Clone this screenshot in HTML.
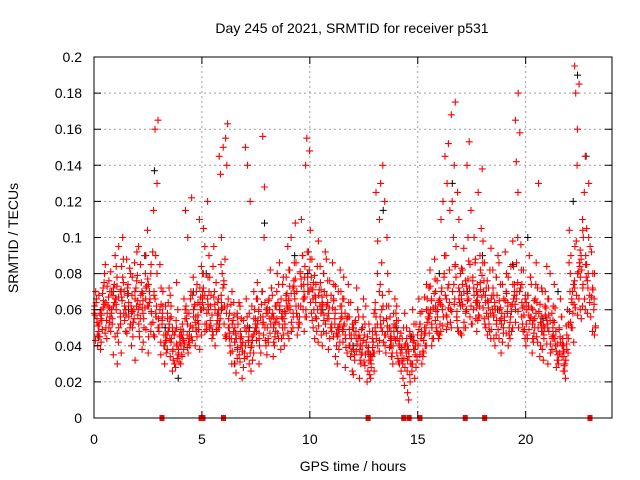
<!DOCTYPE html>
<html><head><meta charset="utf-8"><style>
html,body{margin:0;padding:0;background:#fff}
svg{display:block;font-family:"Liberation Sans",sans-serif}
</style></head><body>
<svg id="chart" width="640" height="480" viewBox="0 0 640 480">
<rect width="640" height="480" fill="#fff"/>
<g id="grid"></g>
<g id="blackpts"></g>
<g id="redpts"></g>
<g id="zeropts"></g>
<rect x="94" y="57" width="518" height="361" fill="none" stroke="#000" stroke-width="1"/>
<g id="ticks"></g>
<text x="352" y="33" text-anchor="middle" font-size="14">Day 245 of 2021, SRMTID for receiver p531</text>
<text x="353" y="471" text-anchor="middle" font-size="14">GPS time / hours</text>
<text transform="translate(18,238) rotate(-90)" text-anchor="middle" font-size="14">SRMTID / TECUs</text>
</svg>
<script>
const xTicks=[0,5,10,15,20];
const yTicks=[0,0.02,0.04,0.06,0.08,0.1,0.12,0.14,0.16,0.18,0.2];
const yTickLabels=["0","0.02","0.04","0.06","0.08","0.1","0.12","0.14","0.16","0.18","0.2"];
const binStarts=[0,0.25,0.5,0.75,1,1.25,1.5,1.75,2,2.25,2.5,2.75,3,3.25,3.5,3.75,4,4.25,4.5,4.75,5,5.25,5.5,5.75,6,6.25,6.5,6.75,7,7.25,7.5,7.75,8,8.25,8.5,8.75,9,9.25,9.5,9.75,10,10.25,10.5,10.75,11,11.25,11.5,11.75,12,12.25,12.5,12.75,13,13.25,13.5,13.75,14,14.25,14.5,14.75,15,15.25,15.5,15.75,16,16.25,16.5,16.75,17,17.25,17.5,17.75,18,18.25,18.5,18.75,19,19.25,19.5,19.75,20,20.25,20.5,20.75,21,21.25,21.5,21.75,22,22.25,22.5,22.75,23];
const redVals=[
[55,62,48,70,40,58,66,52],[60,72,45,54,80,38,65,57],[58,70,50,76,44,62,85,53],[64,55,72,48,90,60,35,68],
[66,52,78,95,42,60,70,30],[70,58,84,48,100,62,36,75],[62,74,50,88,56,40,68,80],[68,55,92,45,72,60,32,78],
[60,75,48,85,65,38,95,55],[72,58,104,50,66,80,42,62],[64,52,80,45,92,70,58,36],[68,165,160,130,115,90,55,45],
[58,48,72,40,85,62,35,52],[50,42,64,36,58,30,72,46],[44,38,55,30,62,48,26,68],[42,50,35,60,28,46,75,38],
[48,40,55,34,66,30,44,115],[52,44,62,36,70,58,40,100],[56,48,68,40,78,62,122,50],[60,52,72,45,84,64,38,110],
[66,58,80,48,95,70,52,105],[62,54,78,44,90,68,120,50],[58,70,48,84,40,64,95,52],[66,135,150,145,80,55,100,60],
[62,163,155,140,74,50,88,45],[52,44,64,36,70,30,58,48],[46,38,58,30,64,25,52,42],[44,36,55,28,62,22,50,40],
[48,150,140,120,66,30,56,42],[50,40,60,32,70,26,55,45],[54,44,66,36,75,30,60,48],[58,156,128,100,70,40,52,64],
[60,50,72,42,82,35,66,56],[56,48,68,40,80,34,62,52],[60,50,74,44,86,38,64,55],[62,52,78,46,95,40,68,58],
[66,56,82,48,100,44,72,60],[70,58,86,50,108,46,76,62],[74,62,90,52,110,48,80,66],[78,155,148,140,92,56,70,84],
[72,60,88,50,104,44,78,66],[68,56,84,48,98,42,74,62],[64,54,80,46,92,40,70,58],[62,50,76,44,88,38,68,55],
[60,48,74,40,86,34,66,52],[56,46,70,38,82,30,62,50],[52,44,66,36,78,28,58,48],[50,40,64,34,74,26,56,46],
[48,38,60,32,72,24,54,44],[44,36,56,30,66,22,50,40],[40,32,52,26,62,20,46,36],[36,30,48,24,58,22,44,34],
[60,110,125,98,80,50,70,44],[62,140,130,120,86,54,74,48],[56,100,70,46,80,40,62,50],[48,40,58,34,66,30,52,44],
[44,36,54,30,62,26,48,40],[40,32,50,22,58,18,44,36],[38,20,48,14,30,10,44,26],[42,34,52,28,60,22,46,38],
[48,40,58,34,66,30,52,44],[56,46,66,40,74,36,60,50],[60,50,72,44,82,40,66,56],[64,54,76,48,88,44,70,60],
[62,52,78,110,120,46,72,90],[66,152,145,130,115,90,74,56],[70,175,168,140,120,100,60,84],[64,125,110,95,80,54,72,48],
[68,58,82,50,94,46,76,62],[72,153,140,115,100,85,60,66],[70,60,88,52,100,48,78,64],[74,62,138,125,105,56,82,68],
[70,58,86,50,98,46,76,64],[66,56,82,48,94,44,72,60],[62,52,78,44,90,40,68,56],[60,50,74,42,86,36,66,54],
[64,54,80,46,92,40,70,58],[68,56,84,48,98,44,74,62],[70,180,165,158,142,125,100,60],[66,56,82,48,96,44,74,62],
[62,52,78,44,90,40,68,56],[60,50,74,42,86,36,66,54],[58,48,72,40,130,34,64,52],[56,46,70,38,84,32,62,50],
[52,44,66,36,80,30,58,48],[48,40,62,32,74,28,54,44],[44,36,56,30,66,26,50,40],[40,32,52,26,60,22,46,36],
[70,58,90,50,104,42,80,64],[80,195,185,180,160,140,95,66],[90,72,110,60,125,55,100,84],[85,68,105,130,145,58,95,78],
[66,56,80,50,92,46,72,60]];
const redVals2=[
[57,51,64,46,60,68,43,53],[63,55,69,49,58,75,42,61],[61,54,67,47,73,56,64,50],[66,58,74,52,62,81,45,70],
[63,56,73,50,67,84,58,47],[67,60,78,54,71,88,57,65],[64,58,72,52,69,83,47,60],[66,59,76,53,70,86,50,62],
[63,57,70,52,68,79,45,61],[69,61,77,55,73,90,49,65],[66,59,74,53,70,85,48,62],[62,56,70,50,66,80,46,58],
[56,50,63,46,60,70,42,54],[48,43,55,40,52,62,38,46],[42,37,50,34,46,56,32,44],[41,36,48,33,45,54,31,40],
[46,41,52,38,49,60,35,43],[51,46,58,42,55,66,39,48],[56,50,63,45,60,70,43,53],[60,54,67,49,63,74,46,57],
[64,58,72,52,68,80,49,61],[63,57,70,51,66,78,48,60],[60,54,67,49,63,75,46,57],[64,58,72,52,68,85,50,61],
[58,52,66,46,62,76,44,55],[50,44,57,40,54,63,37,47],[44,39,50,35,47,56,33,42],[42,37,48,33,45,54,31,40],
[45,40,51,36,48,58,34,43],[48,43,55,39,52,62,36,46],[52,47,59,43,56,66,40,50],[56,50,63,46,60,70,43,53],
[58,52,65,47,61,72,44,55],[55,50,62,45,58,70,42,53],[58,52,66,47,62,74,44,56],[61,55,69,50,65,78,47,59],
[65,58,73,53,69,82,50,62],[69,62,77,56,73,86,53,66],[73,66,81,60,77,90,56,70],[74,67,82,60,78,92,56,70],
[71,64,79,58,75,88,54,68],[67,60,75,55,71,84,51,64],[63,57,71,52,67,80,48,60],[61,55,68,50,64,76,47,58],
[58,52,65,47,61,73,45,55],[55,49,62,45,58,70,42,52],[51,46,58,42,55,66,39,49],[49,44,56,40,52,64,37,46],
[46,41,53,37,50,60,35,44],[43,38,49,35,46,56,32,40],[39,35,45,31,42,52,29,37],[36,32,42,28,39,48,26,34],
[48,43,56,40,52,64,37,46],[52,46,60,42,56,68,40,50],[48,43,55,39,51,62,36,45],[45,40,51,36,48,58,34,43],
[41,36,47,33,44,54,31,39],[38,33,44,30,41,50,28,36],[34,30,40,26,37,46,24,32],[40,35,46,32,43,52,30,38],
[46,41,52,37,49,59,35,44],[53,47,60,43,56,67,40,50],[58,52,65,47,61,73,44,55],[62,56,69,50,65,77,47,59],
[63,56,70,51,66,80,48,60],[64,57,72,52,68,82,49,61],[66,59,74,53,70,85,50,63],[62,56,70,50,66,78,47,59],
[66,59,74,53,70,83,50,63],[69,62,77,56,73,87,52,65],[68,61,76,55,72,86,52,65],[71,64,79,57,75,90,54,67],
[68,61,76,55,72,86,52,65],[64,58,72,52,68,82,49,61],[60,54,68,49,64,78,46,57],[58,52,65,47,61,74,44,55],
[62,56,69,50,65,78,47,59],[66,59,74,53,70,84,50,63],[66,59,75,53,70,86,50,63],[64,57,72,52,68,82,49,61],
[60,54,68,49,64,78,46,57],[58,52,65,47,61,74,44,55],[56,50,63,45,59,72,42,53],[54,48,61,44,57,70,41,51],
[50,45,57,41,54,66,38,48],[46,41,53,37,50,61,35,44],[42,37,49,34,45,56,32,40],[38,34,44,30,41,51,29,36],
[66,59,74,53,70,86,50,63],[76,68,86,61,81,98,57,72],[82,74,93,66,88,104,62,78],[80,72,90,64,85,100,60,76],
[63,56,71,51,67,80,48,60]];
const jitter=[0.53,0.12,0.87,0.31,0.68,0.05,0.44,0.95,0.21,0.76,0.38,0.62,0.09,0.91,0.27,0.58];
const blackTimes=[0.2,0.9,1.6,2.4,2.8,3.3,3.9,4.6,5.2,5.9,6.5,7.2,7.9,8.6,9.3,9.9,10.6,11.3,12.0,12.8,13.4,14.0,14.7,15.4,16.0,16.6,17.3,18.0,18.7,19.4,20.1,20.8,21.5,22.2,22.4,22.8];
const blackVals=[0.045,0.07,0.06,0.09,0.137,0.05,0.022,0.07,0.08,0.06,0.03,0.05,0.108,0.06,0.09,0.08,0.06,0.05,0.04,0.035,0.115,0.05,0.045,0.06,0.08,0.13,0.07,0.09,0.06,0.085,0.1,0.055,0.07,0.12,0.19,0.145];
const zeroTimes=[3.15,4.96,5.05,6.0,12.7,14.35,14.6,15.1,17.2,18.1,22.98];

const X0=94,X1=612,Y0=418,Y1=57;
const xs=h=>X0+h*(X1-X0)/24;
const ys=v=>Y0-v*(Y0-Y1)/0.2;
const NS='http://www.w3.org/2000/svg';
function mk(tag,attrs,parent){const e=document.createElementNS(NS,tag);for(const k in attrs)e.setAttribute(k,attrs[k]);parent.appendChild(e);return e;}
const grid=document.getElementById('grid'),ticks=document.getElementById('ticks');
yTicks.forEach((v,i)=>{
  const y=ys(v);
  if(i>0&&i<yTicks.length-1){const g=mk('line',{x1:X0,x2:X1,y1:y,y2:y,stroke:'#a0a0a0','stroke-dasharray':'2,3'},grid);
  
  }
  const t=mk('path',{d:`M${X0} ${y}h7M${X1} ${y}h-7`,stroke:'#000'},ticks);
  
  
  const l=mk('text',{x:82,y:y+5,'text-anchor':'end','font-size':'14'},ticks);
  l.textContent=yTickLabels[i];
  
  
});
xTicks.forEach(h=>{
  const x=xs(h);
  if(h>0){const g=mk('line',{x1:x,x2:x,y1:Y0,y2:Y1,stroke:'#a0a0a0','stroke-dasharray':'2,3'},grid);
  
  }
  const t=mk('path',{d:`M${x} ${Y0}v-7M${x} ${Y1}v7`,stroke:'#000'},ticks);
  
  
  const l=mk('text',{x:x,y:444,'text-anchor':'middle','font-size':'14'},ticks);
  l.textContent=String(h);
  
  
});
function plus(x,y){return `M${(x-3.5).toFixed(1)} ${y.toFixed(1)}h7M${x.toFixed(1)} ${(y-3.5).toFixed(1)}v7`;}
let bd='';
blackTimes.forEach((t,i)=>{bd+=plus(xs(t),ys(blackVals[i]));});
const bp=mk('path',{d:bd,stroke:'#000','stroke-width':'1',fill:'none'},document.getElementById('blackpts'));


let rd='';
binStarts.forEach((b,i)=>{
  redVals[i].forEach((v,k)=>{const t=b+jitter[(k+i*3)%16]*0.25;rd+=plus(xs(t),ys(v/1000));});
  redVals2[i].forEach((v,k)=>{const t=b+jitter[(k+8+i*5)%16]*0.25;rd+=plus(xs(t),ys(v/1000));});
});
const rp=mk('path',{d:rd,stroke:'#ff0000','stroke-width':'1.1',fill:'none'},document.getElementById('redpts'));


const zg=document.getElementById('zeropts');
zeroTimes.forEach(t=>{const r=mk('rect',{x:xs(t)-2.5,y:ys(0)-3,width:5,height:6,fill:'#ff0000'},zg);

});
</script>
</body></html>
